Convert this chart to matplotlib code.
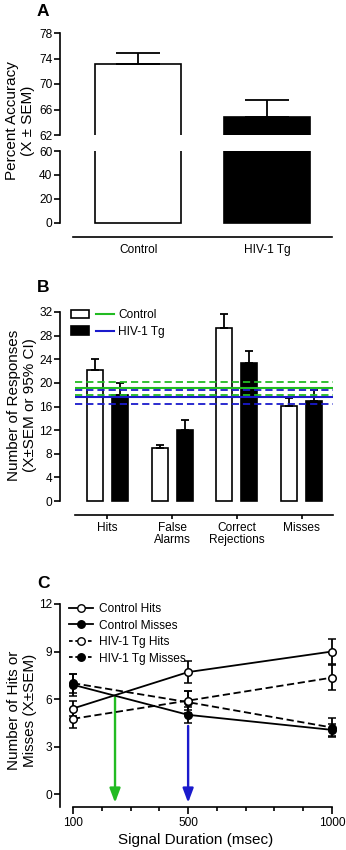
import matplotlib
matplotlib.use("Agg")
import matplotlib.pyplot as plt
from matplotlib.patches import Patch
from matplotlib.lines import Line2D
from matplotlib.legend_handler import HandlerTuple
import numpy as np

plt.rcParams['font.family'] = ['Liberation Sans', 'DejaVu Sans']
plt.rcParams['axes.linewidth'] = 1.2
plt.rcParams['xtick.major.width'] = 1.2
plt.rcParams['ytick.major.width'] = 1.2
plt.rcParams['xtick.minor.width'] = 1.2

# ---------------- data ----------------
# Panel A
groups_a = ["Control", "HIV-1 Tg"]
acc_mean = [73.2, 64.9]
acc_sem = [1.65, 2.55]
a_upper_ticks = [62, 66, 70, 74, 78]
a_lower_ticks = [0, 20, 40, 60]

# Panel B
cats_b = ["Hits", "False\nAlarms", "Correct\nRejections", "Misses"]
b_ctrl = [22.1, 8.9, 29.3, 16.1]
b_ctrl_err = [1.9, 0.6, 2.3, 1.4]
b_hiv = [17.9, 12.0, 23.3, 17.0]
b_hiv_err = [2.0, 1.7, 2.1, 1.8]
ctrl_line = 19.1
ctrl_ci = [18.0, 20.2]
hiv_line = 17.6
hiv_ci = [16.35, 18.8]
b_ticks = [0, 4, 8, 12, 16, 20, 24, 28, 32]

# Panel C
durations = [100, 500, 1000]
ctrl_hits = [5.4, 7.7, 9.0]
ctrl_hits_err = [0.45, 0.7, 0.8]
ctrl_miss = [6.9, 5.0, 4.05]
ctrl_miss_err = [0.7, 0.5, 0.4]
hiv_hits = [4.75, 5.9, 7.35]
hiv_hits_err = [0.6, 0.6, 0.8]
hiv_miss = [7.0, 5.8, 4.2]
hiv_miss_err = [0.6, 0.7, 0.6]
arrow_ctrl = 246
arrow_ctrl_top = 6.1
arrow_hiv = 500
arrow_hiv_top = 4.3
c_yticks = [0, 3, 6, 9, 12]
c_xticks = [100, 500, 1000]
c_xminor = [200, 300, 400, 600, 700, 800, 900]

GREEN = "#22bb22"
BLUE = "#1a1acc"

W, H = 346, 850
fig = plt.figure(figsize=(W / 100, H / 100), dpi=100)


def rect(left, top, right, bottom):
    return [left / W, 1 - bottom / H, (right - left) / W, (bottom - top) / H]


TICKFS = 8.6
LABFS = 11

# ---------------- Panel A ----------------
ax_up = fig.add_axes(rect(60, 33, 332, 135))
ax_lo = fig.add_axes(rect(60, 151, 332, 237))
xa = np.arange(len(groups_a))
for ax in (ax_up, ax_lo):
    ax.bar(xa, acc_mean, width=0.67, color=["white", "black"],
           edgecolor="black", linewidth=1.2)
    ax.set_xlim(-0.61, 1.506)
    for s in ("top", "right"):
        ax.spines[s].set_visible(False)
    ax.tick_params(axis="y", labelsize=TICKFS, length=4, pad=1.5)
ax_up.errorbar(xa, acc_mean, yerr=[[0, 0], acc_sem], fmt="none",
               ecolor="black", elinewidth=1.3, capsize=16, capthick=1.3)
ax_up.set_ylim(62, 78)
ax_up.set_yticks(a_upper_ticks)
ax_up.spines["bottom"].set_visible(False)
ax_up.set_xticks([])
ax_lo.set_ylim(-11.67, 60)
ax_lo.set_yticks(a_lower_ticks)
ax_lo.spines["left"].set_bounds(0, 60)
ax_lo.spines["bottom"].set_bounds(-0.51, 1.506)
ax_lo.set_xticks(xa)
ax_lo.set_xticklabels(groups_a, fontsize=TICKFS)
ax_lo.tick_params(axis="x", length=0, pad=5)
fig.text(20 / W, 1 - 121 / H, "Percent Accuracy\n(X \u00b1 SEM)", rotation=90,
         ha="center", va="center", fontsize=LABFS, linespacing=1.15)
fig.text(43 / W, 1 - 12 / H, "A", fontsize=12.5, fontweight="bold",
         ha="center", va="center")

# ---------------- Panel B ----------------
axb = fig.add_axes(rect(60, 312, 333, 515))
xb = np.arange(len(cats_b))
off = 0.193
bw = 0.247
axb.bar(xb - off, b_ctrl, width=bw, color="white", edgecolor="black",
        linewidth=1.2, zorder=2)
axb.bar(xb + off, b_hiv, width=bw, color="black", edgecolor="black",
        linewidth=1.2, zorder=2)
axb.errorbar(xb - off, b_ctrl, yerr=[np.zeros(4), b_ctrl_err], fmt="none",
             ecolor="black", elinewidth=1.3, capsize=3, capthick=1.3, zorder=2)
axb.errorbar(xb + off, b_hiv, yerr=[np.zeros(4), b_hiv_err], fmt="none",
             ecolor="black", elinewidth=1.3, capsize=3, capthick=1.3, zorder=2)
xl0, xl1 = -0.5, 3.485
axb.hlines([ctrl_line], xl0, xl1, colors=GREEN, linewidth=1.5, zorder=3)
axb.hlines(ctrl_ci, xl0, xl1, colors=GREEN, linewidth=1.3,
           linestyles=(0, (4, 2.2)), zorder=3)
axb.hlines([hiv_line], xl0, xl1, colors=BLUE, linewidth=1.5, zorder=3)
axb.hlines(hiv_ci, xl0, xl1, colors=BLUE, linewidth=1.3,
           linestyles=(0, (4, 2.2)), zorder=3)
axb.set_xlim(-0.734, 3.485)
axb.set_ylim(-2.37, 32)
axb.set_yticks(b_ticks)
axb.spines["left"].set_bounds(0, 32)
axb.spines["bottom"].set_bounds(xl0, xl1)
for s in ("top", "right"):
    axb.spines[s].set_visible(False)
axb.set_xticks(xb)
axb.set_xticklabels(cats_b, fontsize=TICKFS, linespacing=1.05)
axb.tick_params(axis="x", length=3, pad=2)
axb.tick_params(axis="y", labelsize=TICKFS, length=4, pad=1.5)
leg_handles = [
    (Patch(facecolor="white", edgecolor="black", linewidth=1.2),
     Line2D([], [], color=GREEN, linewidth=1.5)),
    (Patch(facecolor="black", edgecolor="black", linewidth=1.2),
     Line2D([], [], color=BLUE, linewidth=1.5)),
]
fig.legend(leg_handles, ["Control", "HIV-1 Tg"],
           handler_map={tuple: HandlerTuple(ndivide=None, pad=0.6)},
           loc="upper left", bbox_to_anchor=(71 / W, 1 - 309 / H),
           frameon=False, fontsize=TICKFS, handlelength=3.6, handleheight=0.7,
           handletextpad=0.35, labelspacing=0.4, borderpad=0,
           borderaxespad=0)
fig.text(22 / W, 1 - 405 / H, "Number of Responses\n(X\u00b1SEM or 95% CI)",
         rotation=90, ha="center", va="center", fontsize=LABFS,
         linespacing=1.15)
fig.text(43 / W, 1 - 288 / H, "B", fontsize=12.5, fontweight="bold",
         ha="center", va="center")

# ---------------- Panel C ----------------
axc = fig.add_axes(rect(60, 604, 332, 807))
mk = dict(marker="o", markersize=5.4, markeredgewidth=1.1,
          markeredgecolor="black", linewidth=1.3, color="black",
          elinewidth=1.3, capsize=2.8, capthick=1.5, ecolor="black",
          clip_on=False)
axc.errorbar(durations, ctrl_miss, yerr=ctrl_miss_err, linestyle="-",
             markerfacecolor="black", zorder=3, **mk)
axc.errorbar(durations, hiv_miss, yerr=hiv_miss_err, linestyle=(0, (4, 2)),
             markerfacecolor="black", zorder=3, **mk)
axc.errorbar(durations, ctrl_hits, yerr=ctrl_hits_err, linestyle="-",
             markerfacecolor="white", zorder=4, **mk)
axc.errorbar(durations, hiv_hits, yerr=hiv_hits_err, linestyle=(0, (4, 2)),
             markerfacecolor="white", zorder=4, **mk)
axc.annotate("", xy=(arrow_ctrl, -0.55), xytext=(arrow_ctrl, arrow_ctrl_top),
             arrowprops=dict(arrowstyle="-|>,head_length=0.85,head_width=0.32",
                             color=GREEN, lw=1.7, shrinkA=0, shrinkB=0))
axc.annotate("", xy=(arrow_hiv, -0.55), xytext=(arrow_hiv, arrow_hiv_top),
             arrowprops=dict(arrowstyle="-|>,head_length=0.85,head_width=0.32",
                             color=BLUE, lw=1.7, shrinkA=0, shrinkB=0))
axc.set_xlim(54.8, 1000)
axc.set_ylim(-0.82, 12)
axc.set_yticks(c_yticks)
axc.set_xticks(c_xticks)
axc.set_xticks(c_xminor, minor=True)
axc.spines["bottom"].set_bounds(100, 1000)
for s in ("top", "right"):
    axc.spines[s].set_visible(False)
axc.tick_params(axis="x", which="major", length=5, labelsize=TICKFS, pad=2)
axc.tick_params(axis="x", which="minor", length=3)
axc.tick_params(axis="y", labelsize=TICKFS, length=4, pad=1.5)
axc.set_xlabel("Signal Duration (msec)", fontsize=LABFS, labelpad=3)
lh = [
    Line2D([], [], color="black", linestyle="-", marker="o", markersize=5.4,
           markerfacecolor="white", markeredgecolor="black", linewidth=1.3),
    Line2D([], [], color="black", linestyle="-", marker="o", markersize=5.4,
           markerfacecolor="black", markeredgecolor="black", linewidth=1.3),
    Line2D([], [], color="black", linestyle=(0, (2, 1.5)), marker="o",
           markersize=5.4, markerfacecolor="white", markeredgecolor="black",
           linewidth=1.3),
    Line2D([], [], color="black", linestyle=(0, (2, 1.5)), marker="o",
           markersize=5.4, markerfacecolor="black", markeredgecolor="black",
           linewidth=1.3),
]
fig.legend(lh, ["Control Hits", "Control Misses", "HIV-1 Tg Hits",
                "HIV-1 Tg Misses"],
           loc="upper left", bbox_to_anchor=(69 / W, 1 - 603 / H),
           frameon=False, fontsize=TICKFS, handlelength=2.0,
           handletextpad=0.5, labelspacing=0.38, borderpad=0,
           borderaxespad=0)
fig.text(22 / W, 1 - 710 / H, "Number of Hits or\nMisses (X\u00b1SEM)",
         rotation=90, ha="center", va="center", fontsize=LABFS,
         linespacing=1.15)
fig.text(43 / W, 1 - 583 / H, "C", fontsize=12.5, fontweight="bold",
         ha="center", va="center")

fig.savefig("out.png", dpi=100)
